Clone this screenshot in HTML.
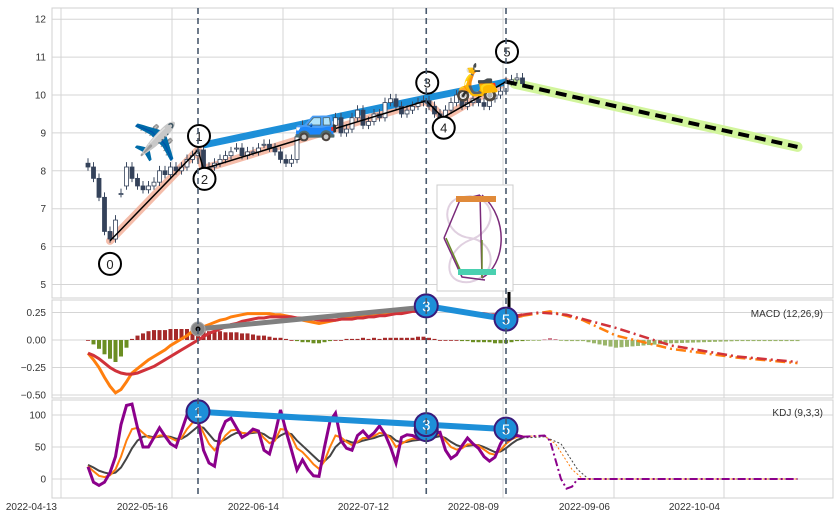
<!DOCTYPE html>
<html><head><meta charset="utf-8"><style>
html,body{margin:0;padding:0;background:#fff;}
svg{display:block;font-family:"Liberation Sans",sans-serif;}
</style></head><body>
<svg id="chart" width="839" height="520" xmlns="http://www.w3.org/2000/svg"></svg>
<script>
// ===== DATA =====
const xTickLabels = ["2022-04-13","2022-05-16","2022-06-14","2022-07-12","2022-08-09","2022-09-06","2022-10-04"];
const priceTicks = [5,6,7,8,9,10,11,12];
const macdTicks = [0.25,0,-0.25,-0.5];
const macdTickLabels = ["0.25","0.00","−0.25","−0.50"];
const kdjTicks = [0,50,100];
const opens = [8.2,8.1,7.8,7.3,6.4,6.2,7.4,7.6,8.1,7.8,7.6,7.5,7.6,7.7,8.0,7.9,8.1,8.0,8.1,8.3,8.4,8.55,8.05,8.1,8.2,8.3,8.4,8.6,8.6,8.4,8.5,8.5,8.7,8.7,8.6,8.5,8.3,8.2,8.3,8.9,9.2,9.0,9.1,9.0,9.0,9.2,9.4,9.0,9.1,9.4,9.6,9.2,9.3,9.5,9.4,9.8,9.9,9.7,9.5,9.6,9.7,9.8,9.85,9.7,9.5,9.4,9.6,9.8,10.0,9.7,9.8,9.9,9.8,9.7,9.9,10.0,10.1,10.35,10.4,10.45];
const closes = [8.1,7.8,7.3,6.4,6.2,6.7,7.4,8.1,7.8,7.6,7.5,7.6,7.7,8.0,7.9,8.1,8.0,8.1,8.3,8.4,8.55,8.05,8.1,8.2,8.3,8.4,8.5,8.6,8.4,8.5,8.5,8.6,8.7,8.6,8.5,8.3,8.2,8.3,8.9,9.2,9.0,9.1,9.0,9.0,9.2,9.4,9.0,9.1,9.4,9.6,9.2,9.3,9.5,9.4,9.8,9.9,9.7,9.5,9.6,9.7,9.8,9.85,9.7,9.5,9.4,9.6,9.8,10.0,9.7,9.8,9.9,9.8,9.7,9.9,10.0,10.1,10.35,10.4,10.45,10.3];
const zigIdx = [4,20,21,61.5,64.5,76];
const zigVal = [6.15,8.55,8.05,9.85,9.4,10.35];
const zigLabels = ["0","1","2","3","4","5"];
const trendIdx = [21,61.5,76];
const trendVal = [8.68,9.92,10.34];
const forecastIdx = [76,129];
const forecastVal = [10.35,8.63];
const dif = [-0.12,-0.18,-0.25,-0.34,-0.42,-0.48,-0.45,-0.38,-0.30,-0.26,-0.22,-0.18,-0.15,-0.12,-0.09,-0.05,-0.02,0.01,0.04,0.08,0.10,0.12,0.14,0.16,0.18,0.19,0.21,0.22,0.23,0.24,0.24,0.24,0.24,0.24,0.23,0.23,0.22,0.21,0.19,0.18,0.17,0.16,0.15,0.16,0.17,0.18,0.19,0.20,0.20,0.21,0.22,0.22,0.23,0.23,0.24,0.25,0.26,0.26,0.27,0.28,0.29,0.30,0.30,0.29,0.28,0.27,0.27,0.26,0.25,0.24,0.23,0.22,0.22,0.21,0.20,0.19,0.19,0.20,0.21,0.22];
const dea = [-0.12,-0.14,-0.17,-0.21,-0.25,-0.28,-0.30,-0.31,-0.31,-0.30,-0.28,-0.26,-0.24,-0.21,-0.18,-0.15,-0.12,-0.09,-0.06,-0.03,0.00,0.03,0.06,0.08,0.10,0.12,0.14,0.15,0.17,0.18,0.19,0.20,0.20,0.21,0.21,0.21,0.21,0.21,0.20,0.20,0.19,0.19,0.18,0.18,0.18,0.18,0.19,0.19,0.19,0.20,0.20,0.21,0.21,0.22,0.22,0.23,0.24,0.24,0.25,0.26,0.26,0.27,0.28,0.28,0.28,0.27,0.27,0.26,0.26,0.25,0.25,0.24,0.24,0.23,0.23,0.22,0.22,0.22,0.22,0.23];
const difProjIdx = [79,84,90,96,106,118,129];
const difProjVal = [0.22,0.26,0.18,0.04,-0.08,-0.16,-0.21];
const deaProjIdx = [79,82,87,96,106,118,129];
const deaProjVal = [0.23,0.25,0.23,0.11,-0.05,-0.15,-0.20];
const macdDivIdx = [20,61.5];
const macdDivVal = [0.10,0.30];
const macdBlueIdx = [61.5,76];
const macdBlueVal = [0.31,0.19];
const kVals = [20,12,5,3,6,15,35,60,78,80,72,65,64,68,68,64,60,64,78,88,90,72,55,45,55,68,76,77,72,71,74,74,64,56,60,78,77,66,48,42,33,23,16,28,50,68,65,58,53,58,64,64,67,72,71,64,50,55,60,63,63,63,65,68,70,60,50,46,48,54,54,52,46,40,38,45,55,62,66,67];
const dVals = [22,18,13,10,8,10,18,32,48,60,66,67,65,66,67,66,63,63,68,75,82,80,70,60,58,62,68,72,72,71,72,73,70,64,62,68,72,70,60,52,44,36,28,28,36,50,58,60,57,57,60,62,64,67,69,67,60,57,58,60,61,62,63,65,67,64,58,53,50,52,53,53,50,46,42,43,48,55,61,64];
const jVals = [19,-5,-10,-5,10,35,85,115,117,80,50,50,65,80,67,55,50,75,100,100,92,45,25,20,70,90,95,80,65,70,78,75,45,39,70,108,75,45,14,30,15,5,4,50,90,103,60,48,45,68,75,65,72,83,70,50,25,65,69,68,63,62,68,72,73,45,32,38,52,64,55,48,35,28,34,55,69,70,68,66];
const jProjIdx = [79,83,84,86,87,88,89,129];
const jProjVal = [66,68,60,0,-15,-12,0,0];
const kProjIdx = [79,83,85,88,90,129];
const kProjVal = [67,67,55,15,0,0];
const dProjIdx = [79,83,86,89,91,129];
const dProjVal = [64,66,55,15,0,0];
const kdjBlueIdx = [20,61.5,76];
const kdjBlueVal = [105,85,78];
const kdjMarkLabels = ["1","3","5"];
const signalIdx = [20,61.5,76];

// ===== SCALES =====
const X0=88, DX=5.5;
const xs = i => X0 + DX*i;
const yP = v => 95 + (10-v)*37.9;
const yM = v => 340 - v*110;
const yK = v => 479 - v*0.64;
const L=52, R=833;
const svg = document.getElementById('chart');
const NS='http://www.w3.org/2000/svg';
function mk(tag, attrs, parent){const e=document.createElementNS(NS,tag);for(const k in attrs)e.setAttribute(k,attrs[k]);(parent||svg).appendChild(e);return e;}
function poly(idx, vals, yf){return idx.map((i,k)=>xs(i).toFixed(1)+','+yf(vals[k]).toFixed(1)).join(' ');}
function interp(idxArr, valArr, i){for(let k=0;k<idxArr.length-1;k++){if(i>=idxArr[k]&&i<=idxArr[k+1]){const t=(i-idxArr[k])/(idxArr[k+1]-idxArr[k]);return valArr[k]+t*(valArr[k+1]-valArr[k]);}}return valArr[valArr.length-1];}
const seq = n => Array.from({length:n},(_,i)=>i);

// ===== PANELS =====
const panels=[[8,298],[300,398],[400,498]];
const vGrid=[61,172,283,393,503,614,724];
panels.forEach((p,pi)=>{
  const r=mk('rect',{x:L,y:p[0],width:R-L,height:p[1]-p[0],fill:'#fff',stroke:'#d0d0d0','stroke-width':1});
  
  
  vGrid.forEach(x=>{const g=mk('line',{x1:x,x2:x,y1:p[0],y2:p[1],stroke:'#d5d5d5','stroke-width':1});
    });
});
function hTicks(ticks, labels, yf){
  ticks.forEach((t,k)=>{
    const g=mk('line',{x1:L,x2:R,y1:yf(t),y2:yf(t),stroke:'#d5d5d5','stroke-width':1});
    
    const tx=mk('text',{x:46,y:yf(t)+3.5,'text-anchor':'end','font-size':10,fill:'#333'});
    tx.textContent=labels[k];
    
  });
}
hTicks(priceTicks, priceTicks.map(String), yP);
hTicks(macdTicks, macdTickLabels, yM);
hTicks(kdjTicks, kdjTicks.map(String), yK);
xTickLabels.forEach((lab,k)=>{
  const t=mk('text',{x:vGrid[k]-4,y:510,'text-anchor':'end','font-size':10,fill:'#333'});
  t.textContent=lab;
  
});

// ===== PRICE PANEL =====
let e;
e=mk('polyline',{points:poly(forecastIdx.map((v,k)=>k==0?77.5:v),forecastVal.map((v,k)=>k==0?10.3:v),yP),fill:'none',stroke:'#d2f59c','stroke-width':10,'stroke-linecap':'round'});

e=mk('polyline',{points:poly(zigIdx,zigVal,yP),fill:'none',stroke:'#f2ad95','stroke-opacity':0.8,'stroke-width':8,'stroke-linejoin':'round','stroke-linecap':'round'});

e=mk('polyline',{points:poly(trendIdx,trendVal,yP),fill:'none',stroke:'#1d8fd8','stroke-width':7});

closes.forEach((c,i)=>{
  const o=opens[i], x=xs(i), hi=Math.max(o,c), lo=Math.min(o,c), up=c>=o;
  const w=mk('line',{x1:x,x2:x,y1:yP(hi+0.13),y2:yP(lo-0.1),stroke:'#3d4b62','stroke-width':1});
  
  const b=mk('rect',{x:x-2,y:yP(hi),width:4,height:Math.max(1,yP(lo)-yP(hi)),fill:up?'#fff':'#34425a',stroke:'#34425a','stroke-width':0.8});
  
});
e=mk('polyline',{points:poly(zigIdx,zigVal,yP),fill:'none',stroke:'#000','stroke-width':1.5});

e=mk('polyline',{points:poly(forecastIdx,forecastVal,yP),fill:'none',stroke:'#000','stroke-width':4,'stroke-dasharray':'11,6'});

const labOff=[23,-14,10,-18,10,-30];
zigIdx.forEach((ix,k)=>{
  const cx=xs(ix)+(k==0?0:1), cy=yP(zigVal[k])+labOff[k];
  const c=mk('circle',{cx:cx,cy:cy,r:11,fill:'#fff',stroke:'#000','stroke-width':2});
  
  const t=mk('text',{x:cx,y:cy+5,'text-anchor':'middle','font-size':13,fill:'#222'});
  t.textContent=zigLabels[k];
  
});
[["✈️",155,154,'airplane-icon','#3a8fd8',36],["🚙",316,134,'car-icon','#2a8fd8',36],["🛵",477,94,'scooter-icon','#e8952a',36]].forEach(a=>{
  const t=mk('text',{x:a[1],y:a[2],'text-anchor':'middle','font-size':a[5],fill:a[4]});
  t.textContent=a[0];
  
});
// inset
const ins=mk('g',{});

mk('rect',{x:437,y:185,width:76,height:106,fill:'#fff',stroke:'#ccc','stroke-width':1},ins);
mk('path',{d:'M458,198 C440,205 445,235 470,238 C495,241 500,275 470,282 C440,285 445,250 470,240 C495,232 500,200 470,196 Z',fill:'none',stroke:'#e0d0e0','stroke-width':2},ins);
mk('path',{d:'M444,238 L460,200 L480,195 M444,238 L462,277 L485,280 M480,195 L482,278 M482,195 C510,220 505,265 482,278',fill:'none',stroke:'#7a2a7a','stroke-width':1.5},ins);
mk('path',{d:'M446,238 L462,274 M482,240 L482,278',fill:'none',stroke:'#6a8a2a','stroke-width':1.5},ins);
mk('rect',{x:456,y:196,width:40,height:6,fill:'#e08a3a'},ins);
mk('rect',{x:458,y:269,width:38,height:6,fill:'#4ad0b0'},ins);
// arrow
e=mk('line',{x1:509,x2:509,y1:292,y2:312,stroke:'#000','stroke-width':3});


// ===== MACD =====
dif.forEach((d,i)=>{
  const h=d-dea[i];
  const b=mk('rect',{x:xs(i)-2,y:Math.min(yM(h),yM(0)),width:4,height:Math.max(0.8,Math.abs(yM(h)-yM(0))),fill:h>=0?'#a52a2a':'#6b8e23'});
  
});
for(let i=80;i<=129;i++){
  const h=interp(difProjIdx,difProjVal,i)-interp(deaProjIdx,deaProjVal,i);
  const b=mk('rect',{x:xs(i)-2,y:Math.min(yM(h),yM(0)),width:4,height:Math.max(0.8,Math.abs(yM(h)-yM(0))),fill:h>=0?'#d08090':'#9ab56a'});
  
}
e=mk('polyline',{points:poly(seq(dif.length),dif,yM),fill:'none',stroke:'#ff7f0e','stroke-width':3});

e=mk('polyline',{points:poly(seq(dea.length),dea,yM),fill:'none',stroke:'#d0323a','stroke-width':3});

e=mk('polyline',{points:poly(difProjIdx,difProjVal,yM),fill:'none',stroke:'#ff7f0e','stroke-width':2.5,'stroke-dasharray':'10,4,2,4'});

e=mk('polyline',{points:poly(deaProjIdx,deaProjVal,yM),fill:'none',stroke:'#d0323a','stroke-width':2.5,'stroke-dasharray':'10,4,2,4'});

e=mk('polyline',{points:poly(macdDivIdx,macdDivVal,yM),fill:'none',stroke:'#808080','stroke-width':5});

e=mk('polyline',{points:poly(macdBlueIdx,macdBlueVal,yM),fill:'none',stroke:'#1d8fd8','stroke-width':6});

e=mk('circle',{cx:xs(macdDivIdx[0]),cy:yM(macdDivVal[0]),r:7,fill:'#888',stroke:'#aaa','stroke-width':1});

mk('circle',{cx:xs(macdDivIdx[0]),cy:yM(macdDivVal[0]),r:2.5,fill:'#000'});
function blueMark(cx,cy,lab,name){
  const c=mk('circle',{cx:cx,cy:cy,r:11.5,fill:'#1d8fd8',stroke:'#3a1a7a','stroke-width':2});
  
  const t=mk('text',{x:cx,y:cy+5.5,'text-anchor':'middle','font-size':15,style:'fill:#ffffff;stroke:none'});
  t.textContent=lab;
  
}
blueMark(xs(macdBlueIdx[0]),yM(macdBlueVal[0]),"3",'macd-point-3');
blueMark(xs(macdBlueIdx[1]),yM(macdBlueVal[1]),"5",'macd-point-5');
e=mk('text',{x:823,y:317,'text-anchor':'end','font-size':10,fill:'#333'});
e.textContent='MACD (12,26,9)';


// ===== KDJ =====
e=mk('polyline',{points:poly(seq(dVals.length),dVals,yK),fill:'none',stroke:'#444','stroke-width':2});

e=mk('polyline',{points:poly(seq(kVals.length),kVals,yK),fill:'none',stroke:'#ff7f0e','stroke-width':2});

e=mk('polyline',{points:poly(seq(jVals.length),jVals,yK),fill:'none',stroke:'#8b008b','stroke-width':3});

e=mk('polyline',{points:poly(dProjIdx,dProjVal,yK),fill:'none',stroke:'#444','stroke-width':1,'stroke-dasharray':'2,2'});

e=mk('polyline',{points:poly(kProjIdx,kProjVal,yK),fill:'none',stroke:'#ff7f0e','stroke-width':1,'stroke-dasharray':'2,2'});

e=mk('polyline',{points:poly(jProjIdx,jProjVal,yK),fill:'none',stroke:'#8b008b','stroke-width':2,'stroke-dasharray':'8,3,2,3'});

e=mk('polyline',{points:poly(kdjBlueIdx,kdjBlueVal,yK),fill:'none',stroke:'#1d8fd8','stroke-width':6});

blueMark(xs(kdjBlueIdx[1]),yK(kdjBlueVal[1]-8),"",'kdj-point-3b');
kdjBlueIdx.forEach((ix,k)=>blueMark(xs(ix),yK(kdjBlueVal[k]),kdjMarkLabels[k],'kdj-point-'+kdjMarkLabels[k]));
e=mk('text',{x:823,y:416,'text-anchor':'end','font-size':10,fill:'#333'});
e.textContent='KDJ (9,3,3)';


// ===== SIGNAL LINES =====
signalIdx.forEach(ix=>{
  const l=mk('line',{x1:xs(ix),x2:xs(ix),y1:8,y2:498,stroke:'#4a5a6e','stroke-width':1.6,'stroke-dasharray':'6,4'});
  
});
</script>
</body></html>
